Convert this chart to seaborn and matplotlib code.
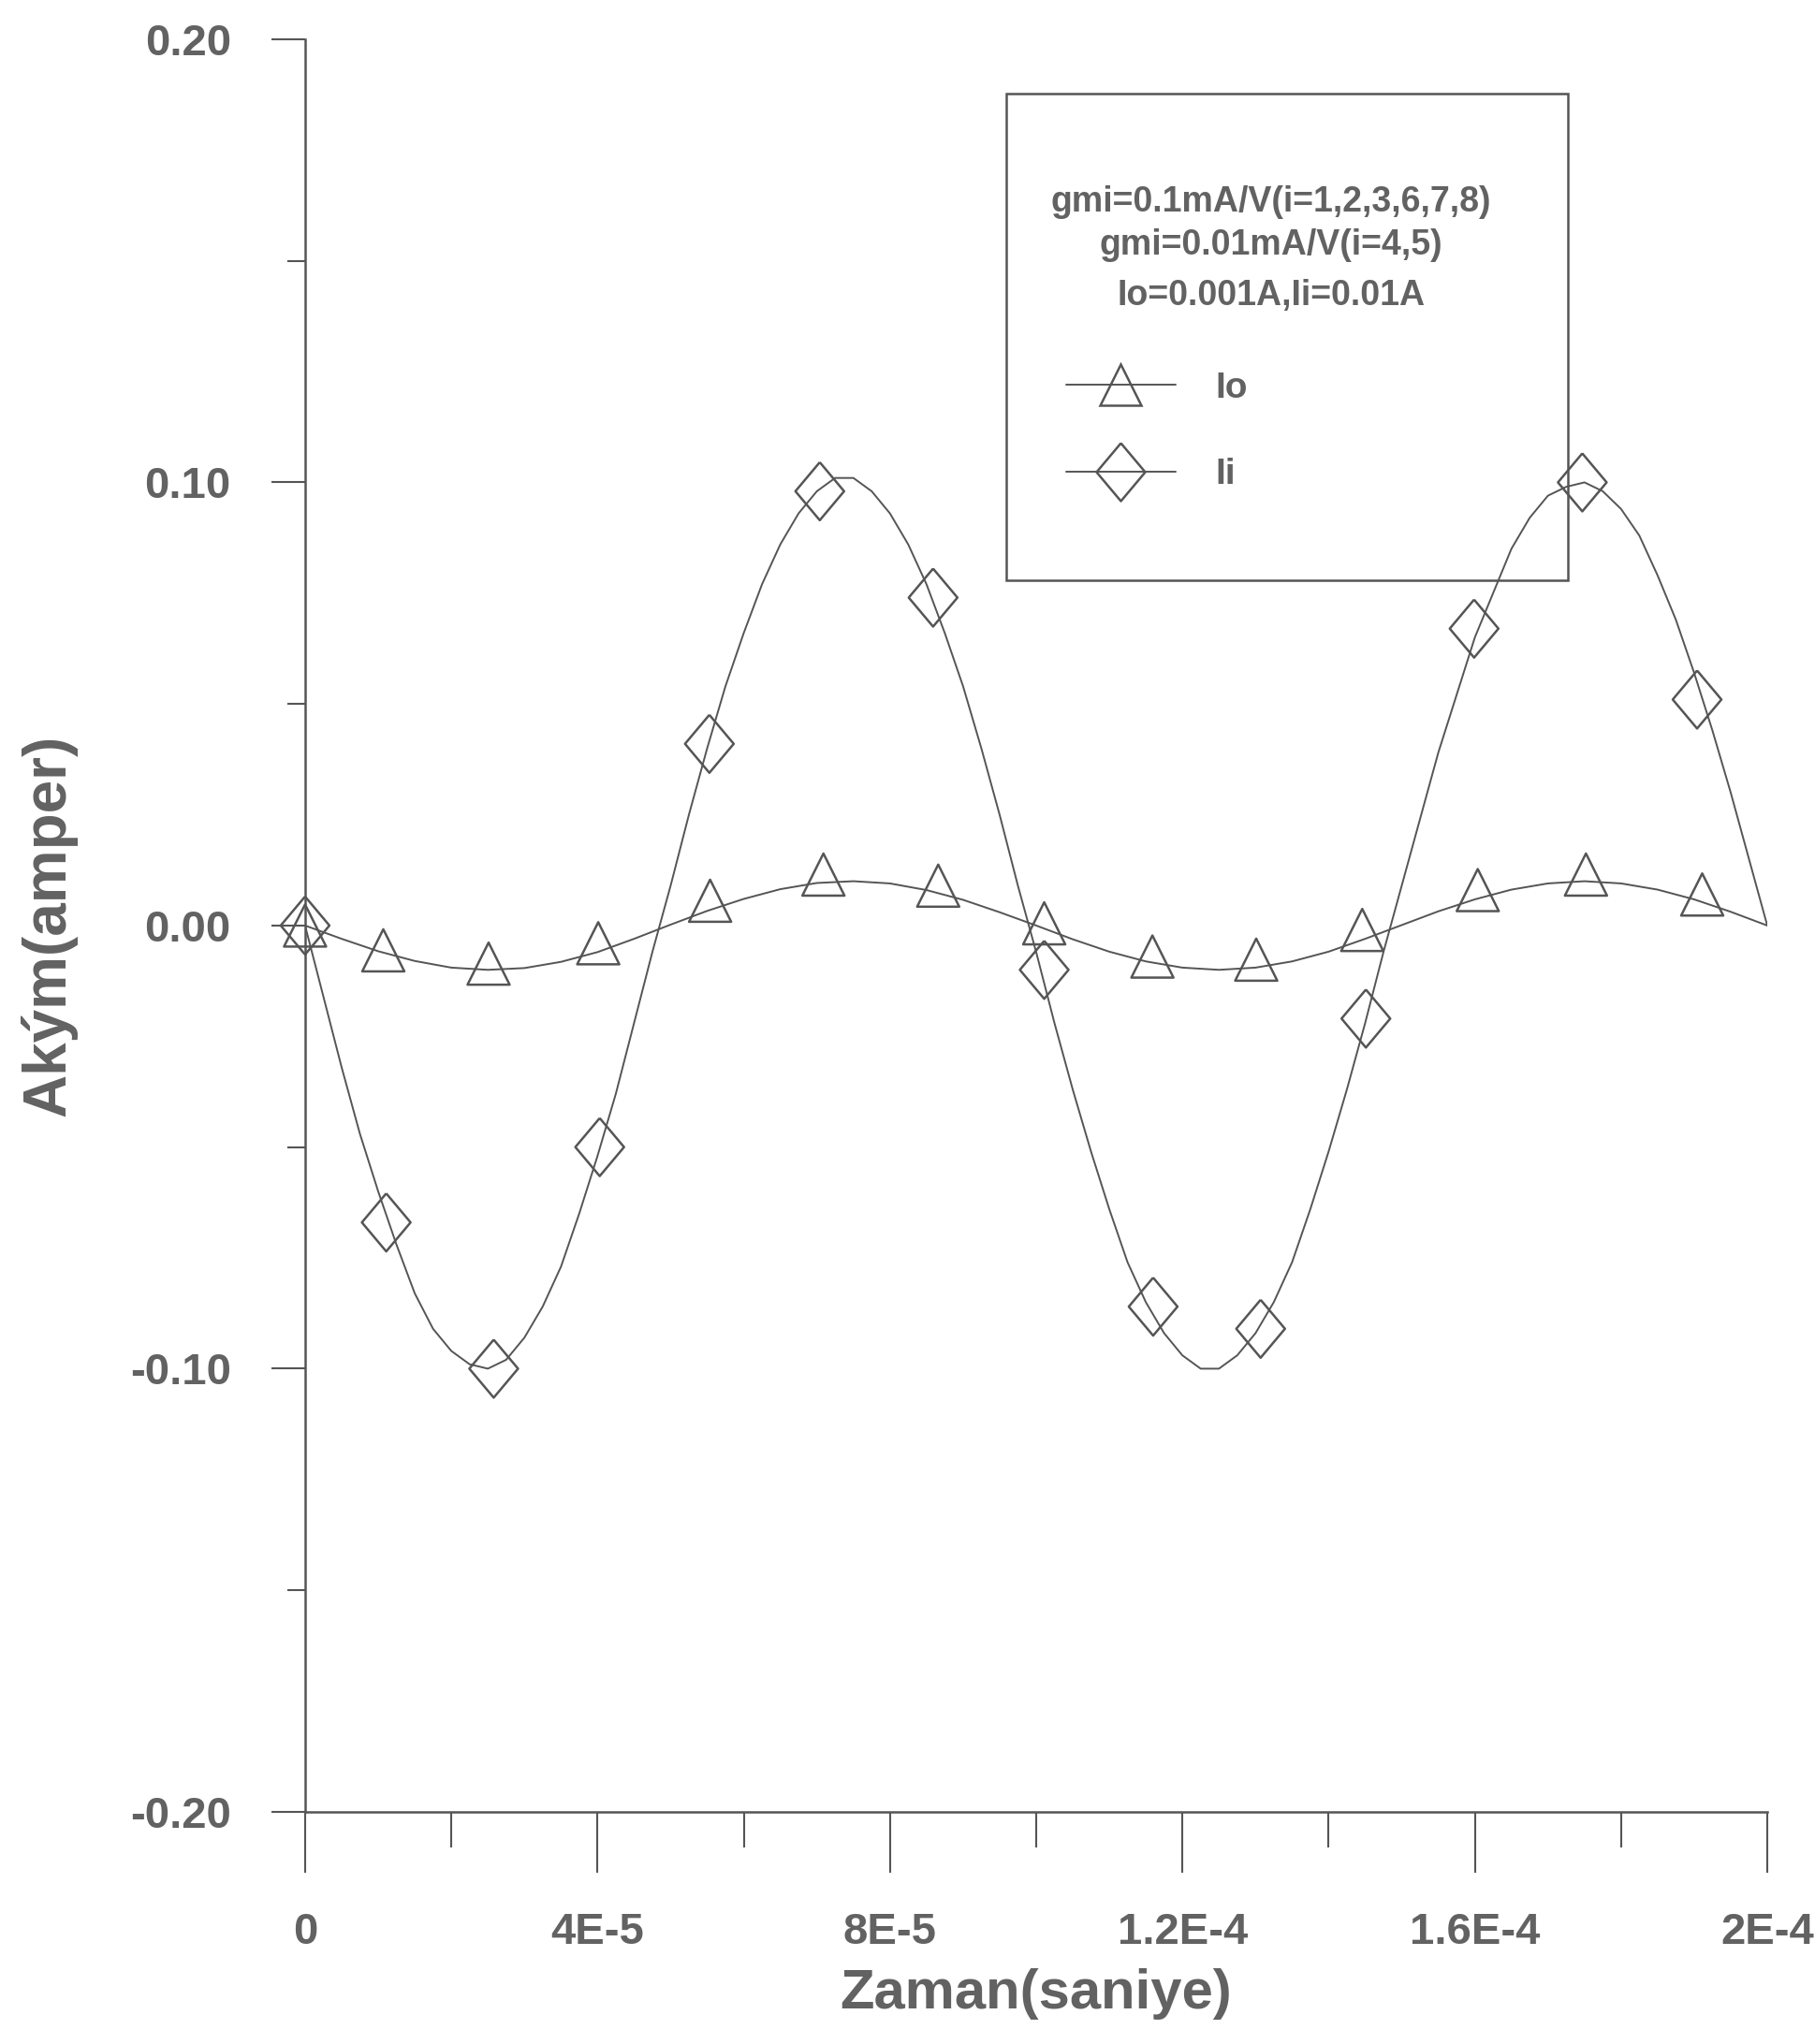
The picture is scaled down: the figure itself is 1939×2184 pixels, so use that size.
import numpy as np
import pandas as pd
import seaborn as sns
import matplotlib.pyplot as plt
from matplotlib.lines import Line2D
from matplotlib.markers import MarkerStyle
from matplotlib.patches import Rectangle
from matplotlib.font_manager import FontProperties

# zaman (1E-5 saniye biriminde), Io egrisi
t_io_egri = [0.0, 0.5, 1.0, 1.5, 2.0, 2.5, 3.0, 3.5, 4.0, 4.5,
             5.0, 5.5, 6.0, 6.5, 7.0, 7.5, 8.0, 8.5, 9.0, 9.5,
             10.0, 10.5, 11.0, 11.5, 12.0, 12.5, 13.0, 13.5, 14.0, 14.5,
             15.0, 15.5, 16.0, 16.5, 17.0, 17.5, 18.0, 18.5, 19.0, 19.5, 20.0]
io_egri = [0.0000, -0.0030, -0.0058, -0.0080, -0.0095, -0.0100, -0.0096, -0.0082, -0.0060, -0.0030,
           0.0002, 0.0033, 0.0060, 0.0082, 0.0096, 0.0100, 0.0095, 0.0080, 0.0058, 0.0030,
           0.0000, -0.0031, -0.0059, -0.0081, -0.0095, -0.0100, -0.0095, -0.0081, -0.0059, -0.0030,
           0.0001, 0.0032, 0.0059, 0.0081, 0.0095, 0.0100, 0.0095, 0.0081, 0.0059, 0.0031, 0.0000]

# Ii egrisi (daha sik okunmus noktalar)
t_ii_egri = [0.0, 0.25, 0.5, 0.75, 1.0, 1.25, 1.5, 1.75, 2.0, 2.25, 2.5, 2.75, 3.0, 3.25, 3.5, 3.75,
             4.0, 4.25, 4.5, 4.75, 5.0, 5.25, 5.5, 5.75, 6.0, 6.25, 6.5, 6.75, 7.0, 7.25, 7.5, 7.75,
             8.0, 8.25, 8.5, 8.75, 9.0, 9.25, 9.5, 9.75, 10.0, 10.25, 10.5, 10.75, 11.0, 11.25, 11.5,
             11.75, 12.0, 12.25, 12.5, 12.75, 13.0, 13.25, 13.5, 13.75, 14.0, 14.25, 14.5, 14.75,
             15.0, 15.25, 15.5, 15.75, 16.0, 16.25, 16.5, 16.75, 17.0, 17.25, 17.5, 17.75, 18.0,
             18.25, 18.5, 18.75, 19.0, 19.25, 19.5, 19.75, 20.0]
ii_egri = [0.000, -0.016, -0.032, -0.047, -0.060, -0.072, -0.083, -0.091, -0.096, -0.099, -0.100,
           -0.098, -0.093, -0.086, -0.077, -0.065, -0.052, -0.038, -0.022, -0.006,
           0.009, 0.025, 0.040, 0.054, 0.066, 0.077, 0.086, 0.093, 0.098, 0.101, 0.101, 0.098,
           0.093, 0.086, 0.077, 0.066, 0.054, 0.040, 0.025, 0.009,
           -0.006, -0.022, -0.037, -0.051, -0.064, -0.076, -0.085, -0.092, -0.097, -0.100, -0.100,
           -0.097, -0.092, -0.085, -0.076, -0.064, -0.051, -0.037, -0.022, -0.006,
           0.009, 0.024, 0.039, 0.052, 0.065, 0.075, 0.085, 0.092, 0.097, 0.099, 0.100, 0.098,
           0.094, 0.088, 0.079, 0.069, 0.057, 0.044, 0.030, 0.015, 0.000]

# isaretler (ucgen: Io, elmas: Ii)
t_io = [0.0, 1.07, 2.51, 4.01, 5.54, 7.09, 8.66, 10.11, 11.59, 13.01, 14.46, 16.04, 17.52, 19.11]
io_isaret = [0.000, -0.0056, -0.0086, -0.0040, 0.0056, 0.0115, 0.0090, 0.0005,
             -0.0070, -0.0077, -0.0010, 0.0080, 0.0115, 0.0070]
t_ii = [0.0, 1.11, 2.58, 4.03, 5.53, 7.04, 8.59, 10.11, 11.60, 13.07, 14.51, 15.99, 17.47, 19.04]
ii_isaret = [0.000, -0.067, -0.100, -0.050, 0.041, 0.098, 0.074, -0.010,
             -0.086, -0.091, -0.021, 0.067, 0.100, 0.051]

x_ticks = [0, 4e-5, 8e-5, 1.2e-4, 1.6e-4, 2e-4]
x_tick_labels = ['0', '4E-5', '8E-5', '1.2E-4', '1.6E-4', '2E-4']
x_minor = [2e-5, 6e-5, 1e-4, 1.4e-4, 1.8e-4]
y_ticks = [-0.2, -0.1, 0.0, 0.1, 0.2]
y_tick_labels = ['-0.20', '-0.10', '0.00', '0.10', '0.20']
y_minor = [-0.15, -0.05, 0.05, 0.15]

aciklama = ['gmi=0.1mA/V(i=1,2,3,6,7,8)', 'gmi=0.01mA/V(i=4,5)', 'Io=0.001A,Ii=0.01A']

sns.set_theme(style="white")
plt.rcParams['font.family'] = ['Liberation Sans', 'DejaVu Sans']

GRI = '#555555'
YAZI = '#626262'
KALIN = ['Liberation Sans', 'DejaVu Sans']

fig = plt.figure(figsize=(19.4, 21.84), dpi=100)
ax = fig.add_axes([0.1680, 0.1136, 0.8052, 0.8672])

df_io = pd.DataFrame({'t': np.array(t_io_egri) * 1e-5, 'Io': io_egri})
df_ii = pd.DataFrame({'t': np.array(t_ii_egri) * 1e-5, 'Ii': ii_egri})
sns.lineplot(data=df_io, x='t', y='Io', ax=ax, color=GRI, lw=1.4, sort=False)
sns.lineplot(data=df_ii, x='t', y='Ii', ax=ax, color=GRI, lw=1.4, sort=False)

elmas = MarkerStyle([(0, 1), (0.84, 0), (0, -1), (-0.84, 0), (0, 1)])
sns.scatterplot(x=np.array(t_io) * 1e-5, y=io_isaret, ax=ax, marker='^', s=1050,
                color=GRI, facecolor='none', edgecolor=GRI, linewidth=1.8,
                zorder=3, clip_on=False)
sns.scatterplot(x=np.array(t_ii) * 1e-5, y=ii_isaret, ax=ax, marker=elmas, s=1990,
                color=GRI, facecolor='none', edgecolor=GRI, linewidth=1.8,
                zorder=3, clip_on=False)

ax.set_xlim(0, 2e-4)
ax.set_ylim(-0.2, 0.2)
ax.set_xticks(x_ticks, labels=x_tick_labels)
ax.set_xticks(x_minor, minor=True)
ax.set_yticks(y_ticks, labels=y_tick_labels)
ax.set_yticks(y_minor, minor=True)

for lab in ax.get_xticklabels():
    lab.set_fontproperties(FontProperties(family=KALIN, weight='bold', size=34))
    lab.set_color(YAZI)
for lab in ax.get_yticklabels():
    lab.set_fontproperties(FontProperties(family=KALIN, weight='bold', size=34))
    lab.set_color(YAZI)

ax.tick_params(axis='x', which='major', direction='out', length=47, width=1.5,
               color=GRI, pad=30, bottom=True)
ax.tick_params(axis='x', which='minor', direction='out', length=27, width=1.5,
               color=GRI, bottom=True)
ax.tick_params(axis='y', which='major', direction='out', length=26, width=1.5,
               color=GRI, pad=31, left=True)
ax.tick_params(axis='y', which='minor', direction='out', length=14, width=1.5,
               color=GRI, left=True)

ax.spines[['top', 'right']].set_visible(False)
for k in ['left', 'bottom']:
    ax.spines[k].set_color(GRI)
    ax.spines[k].set_linewidth(1.8)

ax.set_xlabel('Zaman(saniye)', fontproperties=FontProperties(family=KALIN, weight='bold', size=43),
              color=YAZI)
ax.set_ylabel('Akým(amper)', fontproperties=FontProperties(family=KALIN, weight='bold', size=46),
              color=YAZI)
ax.xaxis.set_label_coords(0.5, -0.088)
ax.yaxis.set_label_coords(-0.156, 0.5)

# aciklama kutusu
ax.add_patch(Rectangle((0.4795, 0.6948), 0.3841, 0.2746, transform=ax.transAxes,
                       fill=False, ec=GRI, lw=1.8, clip_on=False, zorder=4))
for satir, yy in zip(aciklama, [0.9081, 0.8838, 0.8553]):
    ax.text(0.6607, yy, satir, transform=ax.transAxes, ha='center', va='center',
            fontproperties=FontProperties(family=KALIN, weight='bold', size=27), color=YAZI)

h_io = Line2D([], [], color=GRI, lw=1.4, marker='^', ms=32, mfc='none', mec=GRI, mew=1.8)
h_ii = Line2D([], [], color=GRI, lw=1.4, marker=elmas, ms=44.6, mfc='none', mec=GRI, mew=1.8)
leg = ax.legend(handles=[h_io, h_ii], labels=['Io', 'Ii'], loc='upper left',
                bbox_to_anchor=(0.5205, 0.8126), borderaxespad=0, borderpad=0,
                frameon=False, handlelength=3.0, handletextpad=1.1, labelspacing=1.45,
                prop=FontProperties(family=KALIN, weight='bold', size=28))
for txt in leg.get_texts():
    txt.set_color(YAZI)

plt.savefig('out.png', dpi=100)
